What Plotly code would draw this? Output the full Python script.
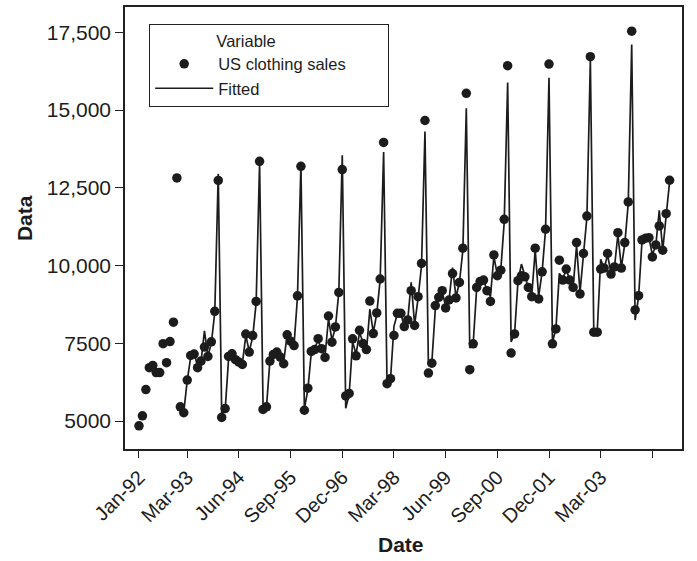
import pandas as pd
import plotly.graph_objects as go

# ---- data ----
months = pd.date_range("1992-01-01", periods=155, freq="MS").strftime("%b-%y").tolist()

sales = [
    4850, 5170, 6015, 6720, 6790, 6560, 6560, 7490, 6880, 7560, 8180, 12820,   # 1992
    5460, 5270, 6320, 7110, 7155, 6720, 6930, 7380, 7080, 7550, 8530, 12740,   # 1993
    5120, 5405, 7080, 7165, 6975, 6900, 6825, 7800, 7220, 7750, 8850, 13355,   # 1994
    5375, 5460, 6930, 7145, 7220, 7060, 6845, 7775, 7570, 7430, 9030, 13195,   # 1995
    5350, 6060, 7240, 7300, 7650, 7330, 7050, 8380, 7540, 8030, 9140, 13090,   # 1996
    5810, 5890, 7645, 7100, 7920, 7495, 7300, 8860, 7815, 8480, 9570, 13960,   # 1997
    6205, 6365, 7755, 8465, 8465, 8040, 8255, 9195, 8075, 9000, 10070, 14667,  # 1998
    6545, 6865, 8715, 8980, 9195, 8640, 8895, 9745, 8960, 9460, 10560, 15540,  # 1999
    6655, 7485, 9300, 9490, 9535, 9195, 8850, 10345, 9675, 9855, 11490, 16430, # 2000
    7190, 7805, 9515, 9675, 9640, 9300, 9000, 10560, 8930, 9800, 11170, 16480, # 2001
    7485, 7965, 10175, 9535, 9890, 9535, 9300, 10740, 9090, 10390, 11595, 16720, # 2002
    7860, 7860, 9890, 9920, 10390, 9730, 9960, 11060, 9920, 10740, 12050, 17540, # 2003
    8575, 9035, 10825, 10880, 10900, 10280, 10665, 11275, 10495, 11670, 12745,  # 2004
]

fitted = [None] * 12 + [
    5500, 5300, 6300, 7050, 7200, 6750, 6900, 7900, 7100, 7500, 8500, 12950,   # 1993
    5250, 5350, 7000, 7300, 7000, 6880, 6850, 7750, 7250, 7700, 8800, 13300,   # 1994
    5500, 5450, 6950, 7150, 7250, 7050, 6900, 7800, 7500, 7450, 9000, 13260,   # 1995
    5400, 6000, 7200, 7350, 7600, 7300, 7100, 8300, 7600, 8000, 9150, 13550,   # 1996
    5415, 5850, 7550, 7150, 7850, 7500, 7220, 8600, 7850, 8450, 9550, 13650,   # 1997
    6150, 6350, 8050, 8450, 8450, 8050, 8250, 9460, 8100, 8950, 10000, 14310,  # 1998
    6800, 6900, 8600, 8950, 9150, 8700, 8900, 9940, 9000, 9450, 10500, 15060,  # 1999
    7350, 7500, 9250, 9450, 9550, 9200, 9000, 10300, 9700, 9850, 11400, 15890, # 2000
    7550, 7800, 9500, 10050, 9650, 9300, 9050, 10500, 9000, 9800, 11150, 16040, # 2001
    7550, 7950, 9750, 9600, 9850, 9550, 9300, 10650, 9150, 10350, 11550, 16610, # 2002
    7850, 7900, 10205, 9900, 10350, 9750, 9950, 11000, 9950, 10700, 12000, 17110, # 2003
    8250, 9000, 10800, 10850, 10900, 10350, 10650, 11775, 10500, 11600, 12700,  # 2004
]

x_tick_cats = ["Jan-92", "Mar-93", "Jun-94", "Sep-95", "Dec-96", "Mar-98",
               "Jun-99", "Sep-00", "Dec-01", "Mar-03", "Jun-04"]
x_tick_text = ["Jan-92", "Mar-93", "Jun-94", "Sep-95", "Dec-96", "Mar-98",
               "Jun-99", "Sep-00", "Dec-01", "Mar-03", ""]
y_tick_vals = [5000, 7500, 10000, 12500, 15000, 17500]
y_tick_text = ["5000", "7500", "10,000", "12,500", "15,000", "17,500"]

INK = "#1c1c1c"
FONT = "Liberation Sans, Arial, sans-serif"
NB = "\u00a0"

fig = go.Figure()
fig.add_trace(go.Scatter(
    x=months, y=sales, mode="markers", name="US clothing sales",
    marker=dict(size=9.5, color=INK, line=dict(width=0)),
))
fig.add_trace(go.Scatter(
    x=months, y=fitted, mode="lines", name="Fitted",
    line=dict(color=INK, width=1.7), connectgaps=False,
))

fig.update_layout(
    width=697, height=561,
    margin=dict(l=125, r=15, t=5, b=112),
    paper_bgcolor="white", plot_bgcolor="white",
    font=dict(family=FONT, color=INK),
    showlegend=True,
    legend=dict(
        x=(149 - 125) / 557, y=(449 - 22) / 444, xanchor="left", yanchor="top",
        bordercolor="#222", borderwidth=1.2, bgcolor="white",
        font=dict(size=16.5, family=FONT, color=INK),
        itemwidth=58, tracegroupgap=0,
        title=dict(text=NB * 14 + "Variable" + NB * 24, side="top",
                   font=dict(size=16.5, family=FONT, color=INK)),
    ),
    xaxis=dict(
        type="category", categoryorder="array", categoryarray=months,
        range=[-4.06, 157.6],
        tickmode="array", tickvals=x_tick_cats, ticktext=x_tick_text,
        tickangle=-45, tickfont=dict(size=20, family=FONT, color=INK),
        ticks="outside", ticklen=7, tickwidth=1.4, tickcolor="#222",
        showline=True, mirror=True, linecolor="#222", linewidth=1.5,
        showgrid=False, zeroline=False,
    ),
    yaxis=dict(
        range=[4104, 18316],
        tickmode="array", tickvals=y_tick_vals, ticktext=y_tick_text,
        tickfont=dict(size=21, family=FONT, color=INK),
        ticks="outside", ticklen=8, tickwidth=1.4, tickcolor="#222",
        showline=True, mirror=True, linecolor="#222", linewidth=1.5,
        showgrid=False, zeroline=False,
    ),
    annotations=[
        dict(text="<b>Date</b>", xref="paper", yref="paper",
             x=(401 - 125) / 557, y=(449 - 545) / 444, xanchor="center", yanchor="middle",
             showarrow=False, font=dict(size=21, family=FONT, color=INK)),
        dict(text="<b>Data</b>", xref="paper", yref="paper",
             x=(24 - 125) / 557, y=(449 - 217) / 444, xanchor="center", yanchor="middle",
             textangle=-90, showarrow=False, font=dict(size=21, family=FONT, color=INK)),
    ],
)

fig.write_html(
    "out.html",
    config={"displayModeBar": False},
    post_script="document.body.style.margin='0px';document.body.style.padding='0px';"
                "document.documentElement.style.overflow='hidden';",
)
